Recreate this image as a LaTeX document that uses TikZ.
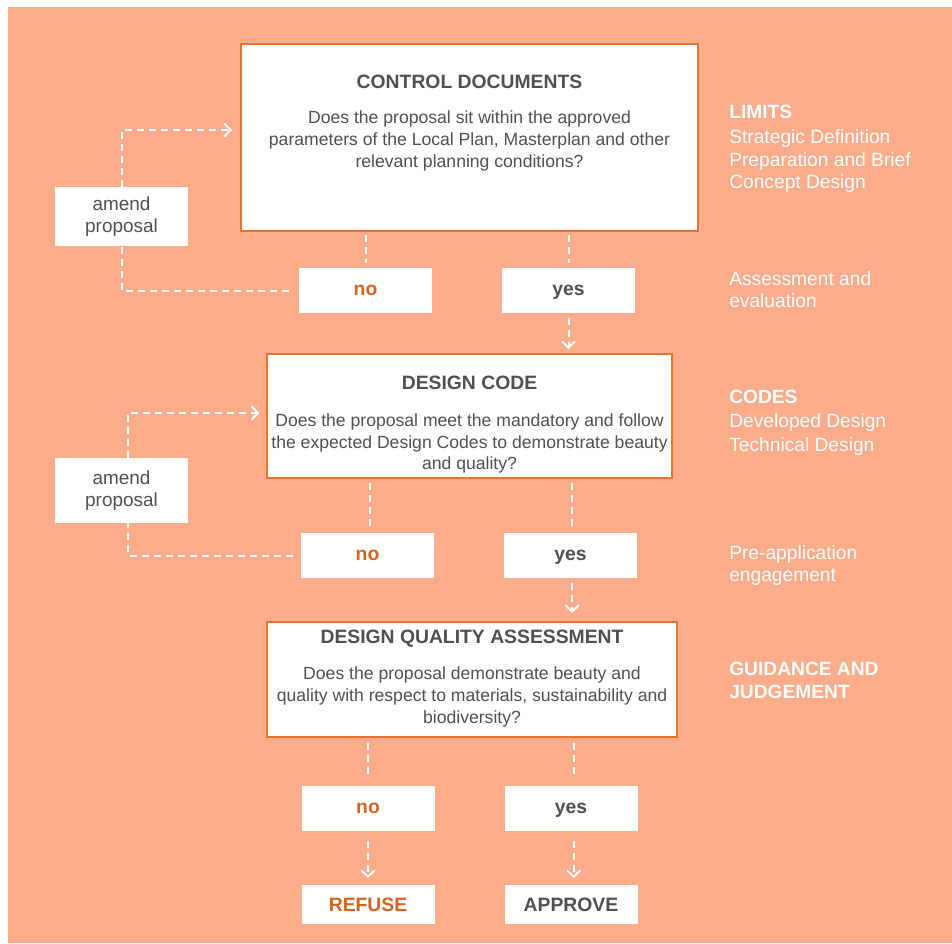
\documentclass[tikz,border=0pt]{standalone}
\usepackage{fontspec}
\setmainfont{Liberation Sans}
\usetikzlibrary{arrows.meta}

\definecolor{salmon}{RGB}{250,172,139}
\definecolor{frame}{RGB}{232,116,48}
\definecolor{inkgray}{RGB}{80,80,80}
\definecolor{noorange}{RGB}{214,100,30}

\tikzset{
  bigbox/.style={draw=frame, line width=1.5pt, fill=white, rectangle, inner sep=0pt},
  smallbox/.style={fill=white, rectangle, inner sep=0pt, minimum width=99.75pt, minimum height=33.75pt,
                   text height=7.6pt, text depth=0pt,
                   text=inkgray, font=\bfseries\fontsize{14.5}{17}\selectfont},
  nobox/.style={smallbox, text=noorange},
  resultbox/.style={minimum height=29.25pt, text height=10.4pt, text depth=0pt},
  amendbox/.style={fill=white, rectangle, inner sep=0pt, minimum width=99.75pt, align=center,
                   text=inkgray, font=\fontsize{14.2}{16.6}\selectfont},
  boxtitle/.style={inner sep=0pt, text height=10.4pt, text depth=0pt, text=inkgray,
                   font=\bfseries\fontsize{14.5}{17}\selectfont},
  question/.style={inner sep=0pt, align=center, text=inkgray, font=\fontsize{13.2}{16.3}\selectfont},
  sidenote/.style={inner sep=0pt, anchor=west, align=left, text=white, font=\fontsize{14.4}{16.6}\selectfont},
  link/.style={draw=white, line width=1.5pt, dash pattern=on 5.25pt off 3.75pt},
  flow/.style={link, -{Straight Barb[length=4.8pt,width=10pt,line width=1.5pt]}}
}

\begin{document}
\begin{tikzpicture}[x=0.75pt, y=-0.75pt]
  % canvas
  \useasboundingbox (0,0) rectangle (952,943);
  \fill[white] (0,0) rectangle (952,943);
  \fill[salmon] (8,7) rectangle (952,943);

  % decision boxes
  \node[bigbox, minimum width=342.75pt, minimum height=140.25pt] (box1) at (469.5,137.5) {};
  \node[boxtitle] (title1) at (469.5,82) {CONTROL DOCUMENTS};
  \node[question] (q1) at (469.5,141) {Does the proposal sit within the approved\\parameters of the Local Plan, Masterplan and other\\relevant planning conditions?};

  \node[bigbox, minimum width=303.75pt, minimum height=93pt] (box2) at (469.5,416) {};
  \node[boxtitle] (title2) at (469.5,383) {DESIGN CODE};
  \node[question] (q2) at (469.5,443.5) {Does the proposal meet the mandatory and follow\\the expected Design Codes to demonstrate beauty\\and quality?};

  \node[bigbox, minimum width=307.5pt, minimum height=86.25pt] (box3) at (472,679.5) {};
  \node[boxtitle] (title3) at (472,637) {DESIGN QUALITY ASSESSMENT};
  \node[question] (q3) at (472,697) {Does the proposal demonstrate beauty and\\quality with respect to materials, sustainability and\\biodiversity?};

  % answers
  \node[nobox] (no1) at (365.5,290.5) {no};
  \node[smallbox] (yes1) at (568.5,290.5) {yes};
  \node[nobox] (no2) at (367.5,555.5) {no};
  \node[smallbox] (yes2) at (570.5,555.5) {yes};
  \node[nobox] (no3) at (368,808.5) {no};
  \node[smallbox] (yes3) at (571,808.5) {yes};

  % outcomes
  \node[nobox, resultbox] (refuse) at (368,904.5) {REFUSE};
  \node[smallbox, resultbox] (approve) at (571,904.5) {APPROVE};

  % amend loops
  \node[amendbox, minimum height=44.25pt] (amend1) at (121.5,216.5) {amend\\proposal};
  \node[amendbox, minimum height=48.75pt] (amend2) at (121.5,490.5) {amend\\proposal};

  % side annotations
  \node[sidenote] (limits) at (729,148.5) {\textbf{LIMITS}\\[2.7pt]Strategic Definition\\Preparation and Brief\\Concept Design};
  \node[sidenote] (assess) at (729,290) {Assessment and\\evaluation};
  \node[sidenote] (codes) at (729,422.5) {\textbf{CODES}\\[2pt]Developed Design\\[1pt]Technical Design};
  \node[sidenote] (preapp) at (729,565.5) {Pre-application\\engagement};
  \node[sidenote] (guide) at (729,680.5) {\textbf{GUIDANCE AND}\\[0.6pt]\textbf{JUDGEMENT}};

  % stage 1 connectors
  \draw[link, shorten <=2.5pt, shorten >=3.5pt] (no1.north |- box1.south) -- (no1.north);
  \draw[link, shorten <=2.5pt, shorten >=3.5pt] (yes1.north |- box1.south) -- (yes1.north);
  \draw[flow, shorten <=3.5pt, shorten >=3pt] (yes1.south) -- (yes1.south |- box2.north);
  \draw[link, shorten <=7.5pt] (no1.west) -| (amend1.south);
  \draw[flow, shorten >=6pt] (amend1.north) |- (box1.west |- 0,130);

  % stage 2 connectors
  \draw[link, shorten <=3pt, shorten >=4pt] ([xshift=1.5]no2.north |- box2.south) -- ([xshift=1.5]no2.north);
  \draw[link, shorten <=3pt, shorten >=4pt] ([xshift=1.2]yes2.north |- box2.south) -- ([xshift=1.2]yes2.north);
  \draw[flow, shorten <=3.5pt, shorten >=6pt] ([xshift=1.2]yes2.south) -- ([xshift=1.2]yes2.south |- box3.north);
  \draw[link, shorten <=6pt] (no2.west) -| ([xshift=5]amend2.south);
  \draw[flow, shorten >=5pt] ([xshift=5]amend2.north) |- (box2.west |- 0,413);

  % stage 3 connectors
  \draw[link, shorten <=4pt, shorten >=6pt] (no3.north |- box3.south) -- (no3.north);
  \draw[link, shorten <=4pt, shorten >=6pt] ([xshift=2]yes3.north |- box3.south) -- ([xshift=2]yes3.north);
  \draw[flow, shorten <=7pt, shorten >=5pt] (no3.south) -- (refuse.north);
  \draw[flow, shorten <=7pt, shorten >=5pt] ([xshift=2]yes3.south) -- ([xshift=2]approve.north);
\end{tikzpicture}
\end{document}
